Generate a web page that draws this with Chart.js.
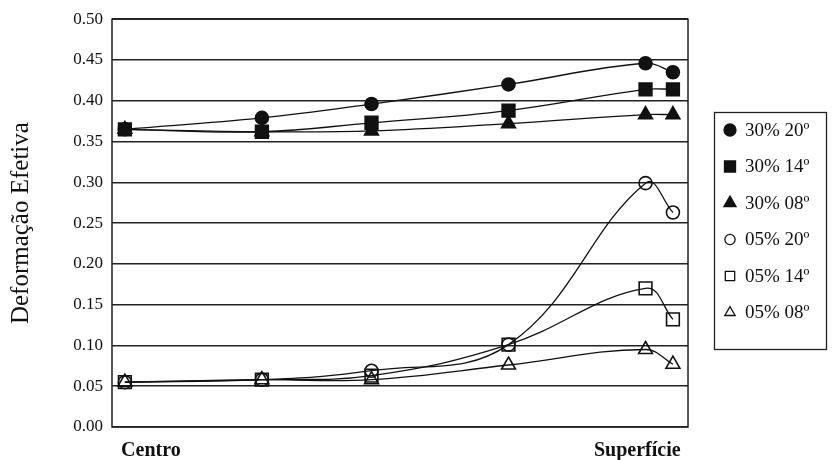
<!DOCTYPE html>
<html>
<head>
<meta charset="utf-8">
<script src="https://cdn.jsdelivr.net/npm/chart.js@4.4.1/dist/chart.umd.min.js"></script>
<style>
  html, body { margin: 0; padding: 0; background: #fff; }
  #wrap { width: 836px; height: 460px; position: relative; }
</style>
</head>
<body>
<div id="wrap"><canvas id="grafico"></canvas></div>
<script>
// posições ao longo da espessura (centro -> superfície)
const posicoes = [0, 5, 9, 14, 19, 20];
const rotulosX = ['Centro', 'Superfície'];
const posRotulosX = [0.95, 18.7];

const nomes = ['30% 20º', '30% 14º', '30% 08º', '05% 20º', '05% 14º', '05% 08º'];
const def30_20 = [0.365, 0.379, 0.396, 0.420, 0.446, 0.435];
const def30_14 = [0.365, 0.362, 0.373, 0.388, 0.414, 0.414];
const def30_08 = [0.365, 0.362, 0.363, 0.372, 0.383, 0.383];
const def05_20 = [0.055, 0.058, 0.069, 0.101, 0.299, 0.263];
const def05_14 = [0.055, 0.058, 0.063, 0.101, 0.170, 0.132];
const def05_08 = [0.055, 0.058, 0.058, 0.076, 0.095, 0.077];

const FONTE = '"Liberation Serif", "Times New Roman", serif';

// tamanho do marcador por estilo (no gráfico e na legenda)
const raioPonto = { circle: 6.5, rect: 9, triangle: 8 };
const raioLegenda = { circle: 6, rect: 7.8, triangle: 7 };

function serie(nome, valores, estilo, cheio, i) {
    return {
        label: nome,
        data: valores.map((v, k) => ({ x: posicoes[k], y: v })),
        order: -i,
        borderColor: '#111',
        borderWidth: 1.3,
        tension: 0.4,
        pointStyle: estilo,
        pointRadius: raioPonto[estilo],
        pointHoverRadius: raioPonto[estilo],
        pointBorderWidth: 1.6,
        pointBorderColor: '#111',
        pointBackgroundColor: cheio ? '#111' : 'rgba(255,255,255,0)',
        aberto: !cheio,
        fill: false
    };
}

// moldura + legenda desenhadas no canvas
const molduraPlugin = {
    id: 'moldura',
    beforeDatasetsDraw(chart) {
        const { ctx, chartArea: a } = chart;
        ctx.save();
        ctx.strokeStyle = '#222';
        ctx.lineWidth = 1.5;
        ctx.strokeRect(a.left, a.top, a.right - a.left, a.bottom - a.top);
        ctx.restore();
    },
    afterDraw(chart) {
        const ctx = chart.ctx;
        ctx.save();
        ctx.strokeStyle = '#222';
        ctx.lineWidth = 1.3;
        ctx.strokeRect(714.5, 112.5, 112, 237);
        ctx.font = '19px ' + FONTE;
        ctx.textBaseline = 'middle';
        chart.data.datasets.forEach((ds, i) => {
            const cy = 130 + i * 36.5;
            let r = raioLegenda[ds.pointStyle];
            if (ds.aberto) r *= 0.85;
            ctx.fillStyle = ds.aberto ? '#fff' : '#111';
            ctx.strokeStyle = '#111';
            Chart.helpers.drawPoint(ctx, { pointStyle: ds.pointStyle, radius: r, borderWidth: 1.4, rotation: 0 }, 730, cy);
            ctx.fillStyle = '#111';
            ctx.fillText(ds.label, 745, cy + 1);
        });
        ctx.restore();
    }
};

new Chart(document.getElementById('grafico'), {
    type: 'line',
    data: {
        datasets: [
            serie(nomes[0], def30_20, 'circle', true, 0),
            serie(nomes[1], def30_14, 'rect', true, 1),
            serie(nomes[2], def30_08, 'triangle', true, 2),
            serie(nomes[3], def05_20, 'circle', false, 3),
            serie(nomes[4], def05_14, 'rect', false, 4),
            serie(nomes[5], def05_08, 'triangle', false, 5)
        ]
    },
    options: {
        responsive: true,
        maintainAspectRatio: false,
        animation: false,
        layout: { padding: { top: 10, right: 148, bottom: 0, left: 6 } },
        plugins: { legend: { display: false }, tooltip: { enabled: false } },
        scales: {
            x: {
                type: 'linear',
                min: -0.47,
                max: 20.55,
                afterBuildTicks: (s) => { s.ticks = posRotulosX.map(v => ({ value: v })); },
                afterFit: (s) => { s.height = 33; },
                grid: { display: false },
                border: { display: false },
                ticks: {
                    autoSkip: false,
                    maxRotation: 0,
                    color: '#111',
                    padding: 4,
                    font: { family: FONTE, size: 20, weight: 'bold' },
                    callback: (v, i) => rotulosX[i]
                }
            },
            y: {
                min: 0,
                max: 0.5,
                afterFit: (s) => { s.width = 106; },
                grid: { color: '#222', lineWidth: 1.5, drawTicks: false },
                border: { display: false },
                ticks: {
                    stepSize: 0.05,
                    color: '#111',
                    padding: 9,
                    font: { family: FONTE, size: 17 },
                    callback: (v) => v.toFixed(2)
                },
                title: {
                    display: true,
                    text: 'Deformação Efetiva',
                    color: '#111',
                    padding: 0,
                    font: { family: FONTE, size: 25 }
                }
            }
        }
    },
    plugins: [molduraPlugin]
});
</script>
</body>
</html>
